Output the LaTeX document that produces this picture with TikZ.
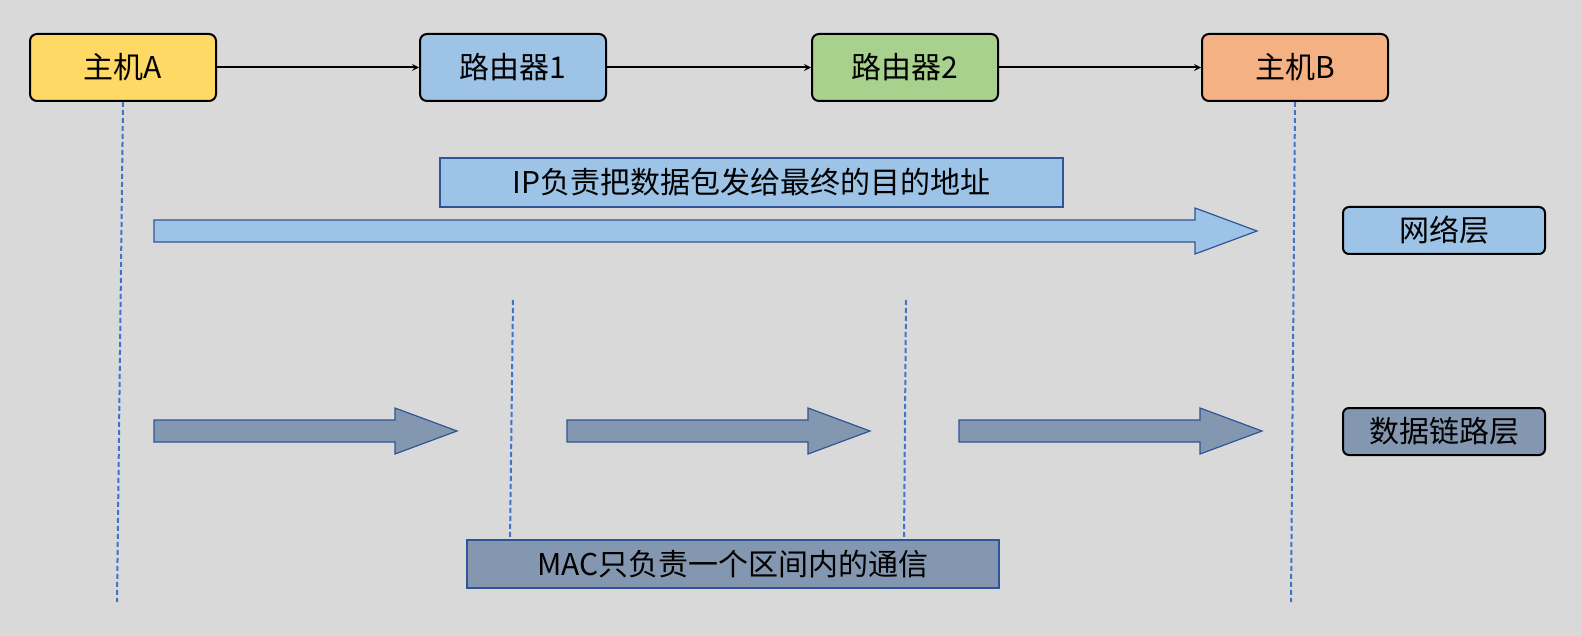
\documentclass[tikz,border=0pt]{standalone}
\usepackage{fontspec}
\setmainfont{Noto Sans CJK SC}
\definecolor{bg}{HTML}{D9D9D9}
\definecolor{yel}{HTML}{FFD966}
\definecolor{blu}{HTML}{9DC3E6}
\definecolor{grn}{HTML}{A9D18E}
\definecolor{org}{HTML}{F4B183}
\definecolor{slate}{HTML}{8497B0}
\definecolor{dkb}{HTML}{2F5597}
\definecolor{dashc}{HTML}{4472C4}
\begin{document}
\begin{tikzpicture}[x=1pt,y=-1pt,
  host/.style={draw=black,line width=2pt,rounded corners=7pt,minimum width=186pt,minimum height=67pt,font=\fontsize{30}{32}\selectfont,inner sep=0pt},
  layer/.style={draw=black,line width=2pt,rounded corners=6pt,minimum width=202pt,minimum height=47pt,font=\fontsize{30}{32}\selectfont,inner sep=0pt},
  lbl/.style={draw=dkb,line width=1.2pt,minimum height=49pt,font=\fontsize{30}{32}\selectfont,inner sep=0pt},
  conn/.style={line width=2pt,-stealth},
  dl/.style={draw=dashc,line width=2pt,dash pattern=on 5pt off 3pt},
  bigarrow/.style={draw=dkb,line width=1.2pt}]
\fill[bg] (0,0) rectangle (1582,636);
\node[host,fill=yel] (A) at (123,67.5) {主机A};
\node[host,fill=blu] (R1) at (513,67.5) {路由器1};
\node[host,fill=grn] (R2) at (905,67.5) {路由器2};
\node[host,fill=org] (B) at (1295,67.5) {主机B};
\draw[conn] (A) -- (R1);
\draw[conn] (R1) -- (R2);
\draw[conn] (R2) -- (B);
\coordinate (a1) at (117,602); \coordinate (b1) at (1291,602);
\coordinate (r1t) at (513,300); \coordinate (r1b) at (510,540);
\coordinate (r2t) at (906,300); \coordinate (r2b) at (904,540);
\draw[dl] (A.south) -- (a1);
\draw[dl] (B.south) -- (b1);
\draw[dl] (r1t) -- (r1b);
\draw[dl] (r2t) -- (r2b);
\node[lbl,fill=blu,minimum width=623pt] (ip) at (751.5,182.5) {IP负责把数据包发给最终的目的地址};
\draw[bigarrow,fill=blu] (154,220)--(1195,220)--(1195,208)--(1257,231)--(1195,254)--(1195,242)--(154,242)--cycle;
\foreach \s/\t in {154/395,567/808,959/1200}{
  \draw[bigarrow,fill=slate] (\s,420)--(\t,420)--(\t,408)--(\t+62,431)--(\t,454)--(\t,442)--(\s,442)--cycle;}
\node[layer,fill=blu] (net) at (1444,230.5) {网络层};
\node[layer,fill=slate] (dll) at (1444,431.5) {数据链路层};
\node[lbl,fill=slate,minimum width=532pt,minimum height=48pt] (mac) at (733,564) {MAC只负责一个区间内的通信};
\end{tikzpicture}
\end{document}
